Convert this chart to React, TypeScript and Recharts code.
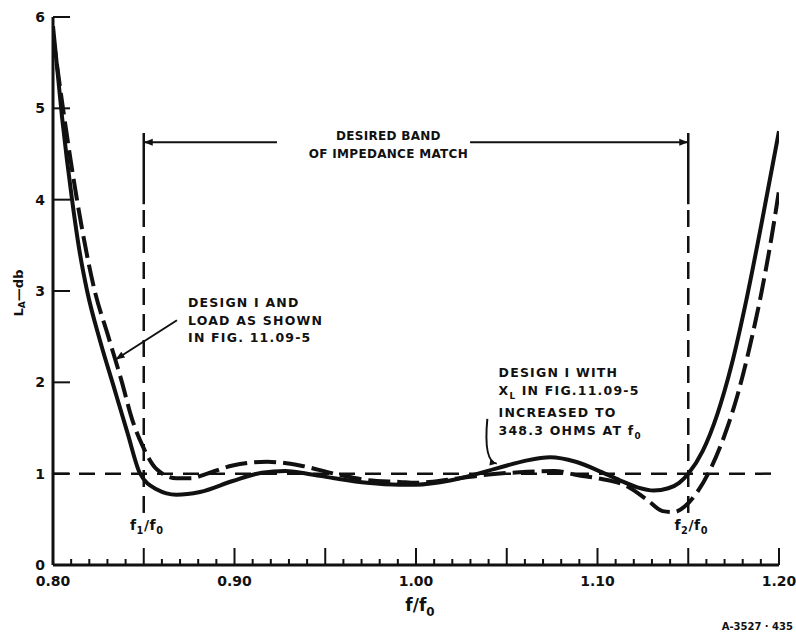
import React from 'react';
import { LineChart, Line, XAxis, YAxis, ReferenceLine, ReferenceDot } from 'recharts';

const ink = '#111';
const font = '"DejaVu Sans", sans-serif';

// design I with X_L increased to 348.3 ohms (solid)
const solidF = [0.8, 0.805, 0.8105, 0.8145, 0.8188, 0.826, 0.8335, 0.841, 0.848, 0.857, 0.868, 0.881, 0.899, 0.915, 0.928, 0.94, 0.955, 0.973, 0.991, 1.0, 1.02, 1.045, 1.06, 1.074, 1.088, 1.102, 1.112, 1.122, 1.131, 1.139, 1.145, 1.15, 1.158, 1.166, 1.174, 1.182, 1.19, 1.2];
const solidL = [5.9, 4.9, 4.0, 3.45, 3.0, 2.45, 1.95, 1.45, 1.0, 0.83, 0.77, 0.8, 0.92, 1.01, 1.03, 1.0, 0.95, 0.9, 0.88, 0.88, 0.93, 1.06, 1.14, 1.18, 1.13, 1.02, 0.93, 0.85, 0.815, 0.84, 0.9, 1.0, 1.25, 1.65, 2.2, 2.9, 3.7, 4.75];

// design I and load as shown (dashed)
const dashF = [0.8, 0.8055, 0.8132, 0.823, 0.8305, 0.838, 0.8435, 0.849, 0.857, 0.868, 0.876, 0.885, 0.899, 0.918, 0.936, 0.955, 0.973, 0.991, 1.0, 1.02, 1.04, 1.061, 1.076, 1.09, 1.1, 1.1165, 1.127, 1.136, 1.142, 1.148, 1.155, 1.162, 1.17, 1.177, 1.184, 1.19, 1.196, 1.2];
const dashL = [5.8, 5.0, 4.0, 3.0, 2.5, 2.0, 1.6, 1.32, 1.05, 0.95, 0.95, 1.0, 1.09, 1.13, 1.09, 1.0, 0.93, 0.91, 0.9, 0.94, 0.99, 1.02, 1.03, 0.98, 0.95, 0.86, 0.72, 0.59, 0.58, 0.64, 0.8, 1.04, 1.42, 1.85, 2.4, 2.95, 3.6, 4.1];

const xLabels = [0.8, 0.9, 1.0, 1.1, 1.2];
const yTicks = [0, 1, 2, 3, 4, 5, 6];
const xTicks = Array.from({ length: 41 }, (_, i) => (80 + i) / 100);

const f1 = 0.85;
const f2 = 1.15;

const solidData = solidF.map((f, i) => ({ f, la: solidL[i] }));
const dashData = dashF.map((f, i) => ({ f, la: dashL[i] }));

const isMajor = (v: number) => Math.abs(v * 20 - Math.round(v * 20)) < 1e-6;

const txt = { fontFamily: font, fontWeight: 'bold' as const, fill: ink };

// subscript, then text back on the baseline
const Sub = (s: string, d = 4) => <tspan dy={d} fontSize="0.7em">{s}</tspan>;
const Up = (s: string, d = 4) => <tspan dy={-d}>{s}</tspan>;

function BottomTick(p: any) {
  const { x, y, payload } = p;
  const v = payload.value;
  const lbl = xLabels.find((t) => Math.abs(t - v) < 1e-6);
  return (
    <g>
      <line x1={x} x2={x} y1={y} y2={y - (isMajor(v) ? 17 : 6)} stroke={ink} strokeWidth={2} />
      {lbl !== undefined && (
        <text x={x} y={y + 21} textAnchor="middle" fontSize={14} {...txt}>{lbl.toFixed(2)}</text>
      )}
    </g>
  );
}

function TopTick(p: any) {
  const { x, y, payload } = p;
  return <line x1={x} x2={x} y1={y} y2={y + (isMajor(payload.value) ? 17 : 7)} stroke={ink} strokeWidth={2} />;
}

function LeftTick(p: any) {
  const { x, y, payload } = p;
  return (
    <g>
      <line x1={x} x2={x + 17} y1={y} y2={y} stroke={ink} strokeWidth={2} />
      <text x={x - 8} y={y + 5} textAnchor="end" fontSize={14} {...txt}>{payload.value}</text>
    </g>
  );
}

function RightTick(p: any) {
  const { x, y } = p;
  return <line x1={x} x2={x - 17} y1={y} y2={y} stroke={ink} strokeWidth={2} />;
}

function head(tx: number, ty: number, fx: number, fy: number, L = 9, W = 3.5) {
  const a = Math.atan2(ty - fy, tx - fx);
  const bx = tx - L * Math.cos(a);
  const by = ty - L * Math.sin(a);
  const s = Math.sin(a);
  const c = Math.cos(a);
  return <polygon points={`${tx},${ty} ${bx - W * s},${by + W * c} ${bx + W * s},${by - W * c}`} fill={ink} />;
}

const arrowLine = (atStart: boolean) => (p: any) => {
  const { x1, y1, x2, y2 } = p;
  return (
    <g>
      <line x1={x1} y1={y1} x2={x2} y2={y2} stroke={ink} strokeWidth={2} />
      {atStart ? head(x1, y1, x2, y2) : head(x2, y2, x1, y1)}
    </g>
  );
};

const curvedLeader = (p: any) => {
  const { x1, y1, x2, y2 } = p;
  const cx = x1 - 4;
  const cy = y2 - 2;
  return (
    <g>
      <path d={`M${x1},${y1} Q${cx},${cy} ${x2},${y2}`} fill="none" stroke={ink} strokeWidth={2} />
      {head(x2, y2, cx, cy, 7, 3)}
    </g>
  );
};

const note = (lines: React.ReactNode[], offs: number[], anchor: 'start' | 'middle' = 'start', size = 12, ls = 1, dx = 0) =>
  (p: any) => {
    const vb = p.viewBox || {};
    const x = (vb.x ?? 0) + (vb.width ?? 0) / 2 + dx;
    const y = (vb.y ?? 0) + (vb.height ?? 0) / 2;
    return (
      <g>
        {lines.map((l, i) => (
          <text key={i} x={x} y={y + offs[i]} textAnchor={anchor} fontSize={size} letterSpacing={ls} {...txt}>{l}</text>
        ))}
      </g>
    );
  };

const ratioLabel = (n: string) => note([
  <>f{Sub(n)}{Up('/f')}{Sub('0')}</>,
], [17], 'middle', 14, 0.5, 3);

function XTitle(p: any) {
  const vb = p.viewBox;
  const x = vb.x + vb.width / 2 + 4;
  return (
    <text x={x} y={vb.y + 46} textAnchor="middle" fontSize={17} {...txt}>f/f{Sub('0', 5)}</text>
  );
}

function YTitle(p: any) {
  const vb = p.viewBox;
  const x = vb.x + 18;
  const y = vb.y + 276;
  return (
    <text x={x} y={y} transform={`rotate(-90, ${x}, ${y})`} textAnchor="middle" dominantBaseline="central" fontSize={13} {...txt}>
      L{Sub('A')}{Up('—db')}
    </text>
  );
}

const dashRef = { stroke: ink, strokeWidth: 2.5, strokeDasharray: '17 9' };

export default function App() {
  return (
    <div style={{ position: 'absolute', left: 0, top: 0, width: 796, height: 634, background: '#fff' }}>
      <LineChart width={796} height={634} margin={{ top: 17, right: 17, left: 0, bottom: 0 }}>
        <XAxis
          dataKey="f" type="number" domain={[0.8, 1.2]} allowDataOverflow ticks={xTicks} interval={0}
          tick={BottomTick} tickLine={false} tickSize={0} tickMargin={0} height={69}
          axisLine={{ stroke: ink, strokeWidth: 3 }} label={XTitle}
        />
        <XAxis
          xAxisId="top" orientation="top" type="number" domain={[0.8, 1.2]} allowDataOverflow ticks={xTicks}
          interval={0} tick={TopTick} tickLine={false} tickSize={0} tickMargin={0} height={0}
          axisLine={{ stroke: ink, strokeWidth: 3 }}
        />
        <YAxis
          type="number" domain={[0, 6]} allowDataOverflow ticks={yTicks} interval={0} tick={LeftTick}
          tickLine={false} tickSize={0} tickMargin={0} width={53} axisLine={{ stroke: ink, strokeWidth: 3 }}
          label={YTitle}
        />
        <YAxis
          yAxisId="right" orientation="right" type="number" domain={[0, 6]} allowDataOverflow ticks={yTicks}
          interval={0} tick={RightTick} tickLine={false} tickSize={0} tickMargin={0} width={0}
          axisLine={{ stroke: ink, strokeWidth: 3 }}
        />

        <ReferenceLine y={1} {...dashRef} strokeDasharray="16 10" />
        <ReferenceLine segment={[{ x: f1, y: 0.57 }, { x: f1, y: 3.95 }]} {...dashRef} />
        <ReferenceLine segment={[{ x: f1, y: 3.95 }, { x: f1, y: 4.73 }]} stroke={ink} strokeWidth={2.5} />
        <ReferenceLine segment={[{ x: f2, y: 0.57 }, { x: f2, y: 3.95 }]} {...dashRef} />
        <ReferenceLine segment={[{ x: f2, y: 3.95 }, { x: f2, y: 4.73 }]} stroke={ink} strokeWidth={2.5} />

        <ReferenceLine segment={[{ x: f1, y: 4.63 }, { x: 0.9234, y: 4.63 }]} shape={arrowLine(true)} />
        <ReferenceLine segment={[{ x: 1.0298, y: 4.63 }, { x: f2, y: 4.63 }]} shape={arrowLine(false)} />
        <ReferenceLine segment={[{ x: 0.8683, y: 2.68 }, { x: 0.8345, y: 2.25 }]} shape={arrowLine(false)} />
        <ReferenceLine segment={[{ x: 1.0393, y: 1.6 }, { x: 1.0445, y: 1.11 }]} shape={curvedLeader} />

        <Line data={solidData} dataKey="la" type="monotone" stroke={ink} strokeWidth={4} dot={false} isAnimationActive={false} />
        <Line data={dashData} dataKey="la" type="monotone" stroke={ink} strokeWidth={4} strokeDasharray="22 7" dot={false} isAnimationActive={false} />

        <ReferenceDot x={0.9848} y={4.63} r={1} fill="none" stroke="none"
          label={note(['DESIRED BAND', 'OF IMPEDANCE MATCH'], [-2, 16], 'middle', 12, 0.3)} />
        <ReferenceDot x={0.8744} y={2.825} r={1} fill="none" stroke="none"
          label={note(['DESIGN I AND', 'LOAD AS SHOWN', 'IN FIG. 11.09-5'], [0, 18, 35], 'start', 12.5, 1.2)} />
        <ReferenceDot x={1.0455} y={2.058} r={1} fill="none" stroke="none"
          label={note([
            'DESIGN I WITH',
            <>X{Sub('L')}{Up(' IN FIG.11.09-5')}</>,
            'INCREASED TO',
            <>348.3 OHMS AT  f{Sub('0')}</>,
          ], [0, 18, 40, 58], 'start', 12.5, 1.2)} />
        <ReferenceDot x={f1} y={0.57} r={1} fill="none" stroke="none" label={ratioLabel('1')} />
        <ReferenceDot x={f2} y={0.57} r={1} fill="none" stroke="none" label={ratioLabel('2')} />

        <text x={793} y={630} textAnchor="end" fontSize={10} {...txt}>A-3527 · 435</text>
      </LineChart>
    </div>
  );
}
